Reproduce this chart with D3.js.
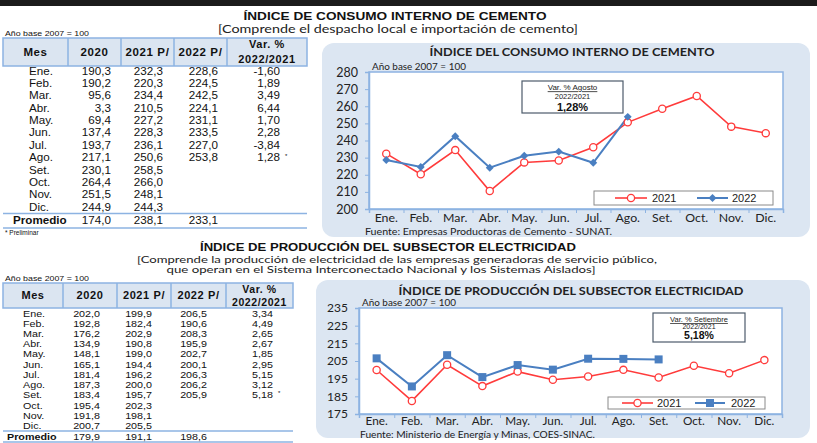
<!DOCTYPE html>
<html><head><meta charset="utf-8">
<script src="https://cdn.jsdelivr.net/npm/d3@7"></script>
<style>body{margin:0;background:#fff}svg{display:block}</style>
</head><body><svg id="c" width="817" height="443"></svg>
<script>
// ---------- DATA ----------
const months = ["Ene.","Feb.","Mar.","Abr.","May.","Jun.","Jul.","Ago.","Set.","Oct.","Nov.","Dic."];
const tableHeaders = ["Mes","2020","2021 P/","2022 P/"];
const varHeader = ["Var. %","2022/2021"];

const cem2020 = [190.3,190.2,95.6,3.3,69.4,137.4,193.7,217.1,230.1,264.4,251.5,244.9];
const cem2021 = [232.3,220.3,234.4,210.5,227.2,228.3,236.1,250.6,258.5,266.0,248.1,244.3];
const cem2022 = [228.6,224.5,242.5,224.1,231.1,233.5,227.0,253.8];
const cemVar  = [-1.60,1.89,3.49,6.44,1.70,2.28,-3.84,1.28];
const cemProm = [174.0,238.1,233.1];
const cemTicks = [200,210,220,230,240,250,260,270,280];

const ele2020 = [202.0,192.8,176.2,134.9,148.1,165.1,181.4,187.3,183.4,195.4,191.8,200.7];
const ele2021 = [199.9,182.4,202.9,190.8,199.0,194.4,196.2,200.0,195.7,202.3,198.1,205.5];
const ele2022 = [206.5,190.6,208.3,195.9,202.7,200.1,206.3,206.2,205.9];
const eleVar  = [3.34,4.49,2.65,2.67,1.85,2.95,5.15,3.12,5.18];
const eleProm = [179.9,191.1,198.6];
const eleTicks = [175,185,195,205,215,225,235];

const seriesNames = ["2021","2022"];

// ---------- HELPERS ----------
const svg = d3.select("#c");
const f1 = v => d3.format(".1f")(v).replace(".", ",");
const f2 = v => d3.format(".2f")(v).replace(".", ",").replace("−", "-");
const RED = "#ff3b3b", BLUE = "#4a7fc1", LINEBLUE = "#8db3e2";
const TFONT = "'Liberation Sans', Arial, sans-serif";
const CFONT = "Lato, 'Open Sans', sans-serif";

function stretch(sel, sx) {
  sel.each(function () {
    const L = this.getComputedTextLength();
    if (L > 0) d3.select(this).attr("textLength", L * sx).attr("lengthAdjust", "spacingAndGlyphs");
  });
}

function txt(g, x, y, s, o = {}) {
  const t = g.append("text").attr("x", x).attr("y", y).text(s)
    .attr("font-family", o.family || TFONT).attr("font-size", o.size || 11)
    .attr("font-weight", o.weight || "normal").attr("fill", o.fill || "#111")
    .attr("text-anchor", o.anchor || "start").attr("dy", o.dy || "0.35em");
  if (o.ls) t.attr("letter-spacing", o.ls);
  if (o.deco) t.attr("text-decoration", o.deco);
  if (o.len) t.attr("textLength", o.len).attr("lengthAdjust", "spacingAndGlyphs");
  else if (o.sx) stretch(t, o.sx);
  return t;
}

// top dark bar
svg.append("rect").attr("x", 0).attr("y", 0).attr("width", 817).attr("height", 6).attr("fill", "#1b1b1b");

// ---------- TABLE ----------
function drawTable(c) {
  const g = svg.append("g");
  txt(g, c.x0 + 2, c.baseY, "Año base 2007 = 100", {size: 8, sx: 1.1});
  g.append("rect").attr("x", c.edges[0]).attr("y", c.headTop)
    .attr("width", c.edges[c.edges.length - 1] - c.edges[0]).attr("height", c.headBot - c.headTop)
    .attr("fill", "#dbe5f1").attr("stroke", LINEBLUE).attr("stroke-width", 1.5);
  c.edges.slice(1, -1).forEach(x => g.append("line").attr("x1", x).attr("x2", x)
    .attr("y1", c.headTop).attr("y2", c.headBot).attr("stroke", LINEBLUE).attr("stroke-width", 1.5));
  const hmid = (c.headTop + c.headBot) / 2;
  tableHeaders.forEach((h, i) => txt(g, (c.edges[i] + c.edges[i + 1]) / 2, hmid, h,
    {weight: "bold", size: c.hsize, anchor: "middle", ls: 0.6}));
  const vm = (c.edges[4] + c.edges[5]) / 2;
  txt(g, vm, hmid - c.hgap, varHeader[0], {weight: "bold", size: c.hvsize, anchor: "middle", ls: 0.6});
  txt(g, vm, hmid + c.hgap, varHeader[1], {weight: "bold", size: c.hvsize, anchor: "middle", ls: 0.6});

  const rowY = d3.scaleLinear().domain([0, 11]).range([c.row0, c.row11]);
  const o = {size: c.size, sx: c.sx};
  const oe = {size: c.size, sx: c.sx, anchor: "end"};
  months.forEach((m, i) => {
    const y = rowY(i);
    txt(g, c.mesX, y, m, o);
    txt(g, c.rx[0], y, f1(c.d2020[i]), oe);
    txt(g, c.rx[1], y, f1(c.d2021[i]), oe);
    if (i < c.d2022.length) {
      txt(g, c.rx[2], y, f1(c.d2022[i]), oe);
      txt(g, c.rx[3], y, f2(c.dVar[i]), oe);
      if (i === c.d2022.length - 1) txt(g, c.rx[3] + 5, y - 2, "*", {size: 6});
    }
  });
  [c.lineAbove, c.lineBelow].forEach(y => g.append("line").attr("x1", c.edges[0]).attr("x2", c.edges[5])
    .attr("y1", y).attr("y2", y).attr("stroke", LINEBLUE).attr("stroke-width", 1.5));
  txt(g, c.promX, c.promY, "Promedio", {size: c.size, sx: c.sx, weight: "bold"});
  c.prom.forEach((v, i) => txt(g, c.rx[i], c.promY, f1(v), oe));
  if (c.prelimY) txt(g, c.x0 + 2, c.prelimY, "* Preliminar", {size: 6.5});
}

drawTable({x0: 3, baseY: 33, edges: [3, 68, 121, 174, 227, 307], headTop: 38, headBot: 66, hsize: 11.5, hvsize: 11, hgap: 7.5,
  row0: 71, row11: 207, mesX: 29, rx: [111, 163, 218, 280], size: 10.3, sx: 1.13,
  d2020: cem2020, d2021: cem2021, d2022: cem2022, dVar: cemVar, prom: cemProm,
  lineAbove: 213.5, lineBelow: 228, promX: 13, promY: 220.5, prelimY: 233});

drawTable({x0: 3, baseY: 278, edges: [3, 63, 117, 171, 226, 293], headTop: 283, headBot: 308, hsize: 11, hvsize: 10.5, hgap: 6.5,
  row0: 313.5, row11: 426, mesX: 23, rx: [100, 152, 207, 273], size: 8.8, sx: 1.22,
  d2020: ele2020, d2021: ele2021, d2022: ele2022, dVar: eleVar, prom: eleProm,
  lineAbove: 431, lineBelow: 442, promX: 7, promY: 436.5, prelimY: null});

// ---------- SECTION TITLES ----------
txt(svg, 395, 16, "ÍNDICE DE CONSUMO INTERNO DE CEMENTO", {weight: "bold", size: 10.5, anchor: "middle", len: 303});
txt(svg, 398, 29, "[Comprende el despacho local e importación de cemento]", {family: CFONT, size: 10.5, anchor: "middle", len: 360, fill: "#222"});
txt(svg, 388, 247, "ÍNDICE DE PRODUCCIÓN DEL SUBSECTOR ELECTRICIDAD", {weight: "bold", size: 10.5, anchor: "middle", len: 376});
txt(svg, 397, 259, "[Comprende la producción de electricidad de las empresas generadoras de servicio público,", {family: CFONT, size: 10, anchor: "middle", len: 520, fill: "#222"});
txt(svg, 381, 269.5, "que operan en el Sistema Interconectado Nacional y los Sistemas Aislados]", {family: CFONT, size: 10, anchor: "middle", len: 429, fill: "#222"});

// ---------- CHARTS ----------
function marker(g, type, x, y, color) {
  if (type === "circle") g.append("circle").attr("cx", x).attr("cy", y).attr("r", 3.6)
    .attr("fill", "#fff").attr("stroke", color).attr("stroke-width", 1.3);
  else if (type === "diamond") g.append("path").attr("d", d3.symbol(d3.symbolDiamond2, 40)())
    .attr("transform", `translate(${x},${y})`).attr("fill", color);
  else g.append("rect").attr("x", x - 4).attr("y", y - 4).attr("width", 8).attr("height", 8).attr("fill", color);
}

function drawChart(c) {
  const g = svg.append("g");
  g.append("rect").attr("x", c.panel[0]).attr("y", c.panel[1]).attr("width", c.panel[2]).attr("height", c.panel[3])
    .attr("rx", 12).attr("fill", "#dce6f2");
  txt(g, c.titleX, c.titleY, c.title, {family: CFONT, weight: "bold", size: 11, anchor: "middle", len: c.titleLen, fill: "#222"});
  txt(g, c.baseX, c.baseY, "Año base  2007  =  100", {family: CFONT, size: 9, fill: "#222", sx: 1.1});
  g.append("rect").attr("x", c.L).attr("y", c.T).attr("width", c.R - c.L).attr("height", c.B - c.T)
    .attr("fill", "#fff").attr("stroke", "#8db3e2").attr("stroke-width", 1.5);

  const y = d3.scaleLinear().domain(d3.extent(c.ticks)).range([c.B, c.T]);
  const x = d3.scaleBand().domain(months).range([c.L, c.R]);
  const xb = d3.scaleLinear().domain([0, 12]).range([c.L, c.R]);

  const ya = g.append("g").attr("transform", `translate(${c.L},0)`)
    .call(d3.axisLeft(y).tickValues(c.ticks).tickSize(4).tickPadding(7).tickFormat(d3.format("d")));
  ya.select(".domain").attr("stroke", "#8db3e2").attr("stroke-width", 1.5);
  ya.selectAll(".tick line").attr("stroke", "#8db3e2");
  ya.selectAll("text").attr("font-family", CFONT).attr("font-size", c.yfs).attr("fill", "#222");

  const xa = g.append("g").attr("transform", `translate(0,${c.B})`)
    .call(d3.axisBottom(xb).tickValues(d3.range(13)).tickSize(4).tickFormat(""));
  xa.select(".domain").attr("stroke", "#8db3e2").attr("stroke-width", 1.5);
  xa.selectAll(".tick line").attr("stroke", "#8db3e2");
  const xl = g.append("g").attr("transform", `translate(0,${c.B})`)
    .call(d3.axisBottom(x).tickSize(0).tickPadding(c.xpad));
  xl.select(".domain").remove();
  xl.selectAll("text").attr("font-family", CFONT).attr("font-size", c.xfs).attr("fill", "#222");
  stretch(xl.selectAll("text"), 1.12);

  const line = d3.line().x((d, i) => x(months[i]) + x.bandwidth() / 2).y(d => y(d));
  g.append("path").datum(c.s1).attr("d", line).attr("fill", "none").attr("stroke", RED).attr("stroke-width", 1.6);
  g.append("path").datum(c.s2).attr("d", line).attr("fill", "none").attr("stroke", BLUE).attr("stroke-width", 2);
  c.s1.forEach((d, i) => marker(g, "circle", x(months[i]) + x.bandwidth() / 2, y(d), RED));
  c.s2.forEach((d, i) => marker(g, c.m2, x(months[i]) + x.bandwidth() / 2, y(d), BLUE));

  // annotation
  const a = c.ann;
  g.append("rect").attr("x", a.x).attr("y", a.y).attr("width", a.w).attr("height", a.h)
    .attr("fill", "#fff").attr("stroke", "#4d5b6b").attr("stroke-width", 1.2);
  const cx = a.x + a.w / 2;
  txt(g, cx, a.l1, a.t1, {family: TFONT, size: a.s1, anchor: "middle", deco: "underline", fill: "#222"});
  txt(g, cx, a.l2, "2022/2021", {family: TFONT, size: a.s2, anchor: "middle", fill: "#222"});
  txt(g, cx, a.l3, a.t3, {family: TFONT, size: a.s3, weight: "bold", anchor: "middle", fill: "#111"});

  // legend
  const lg = c.leg;
  g.append("rect").attr("x", lg.x).attr("y", lg.y).attr("width", lg.w).attr("height", lg.h)
    .attr("fill", "#fff").attr("stroke", "#8a8a8a").attr("stroke-width", 1);
  const ly = lg.y + lg.h / 2;
  g.append("line").attr("x1", lg.r1[0]).attr("x2", lg.r1[1]).attr("y1", ly).attr("y2", ly).attr("stroke", RED).attr("stroke-width", 1.6);
  marker(g, "circle", (lg.r1[0] + lg.r1[1]) / 2, ly, RED);
  txt(g, lg.t1, ly, seriesNames[0], {family: TFONT, size: c.legfs, fill: "#222"});
  g.append("line").attr("x1", lg.r2[0]).attr("x2", lg.r2[1]).attr("y1", ly).attr("y2", ly).attr("stroke", BLUE).attr("stroke-width", 2);
  marker(g, c.m2, (lg.r2[0] + lg.r2[1]) / 2, ly, BLUE);
  txt(g, lg.t2, ly, seriesNames[1], {family: TFONT, size: c.legfs, fill: "#222"});

  txt(g, c.srcX, c.srcY, c.src, {family: CFONT, size: c.srcfs, fill: "#222", len: c.srcLen});
}

drawChart({panel: [322, 43, 488, 194], title: "ÍNDICE DEL CONSUMO INTERNO DE CEMENTO", titleX: 572, titleY: 52, titleLen: 285,
  baseX: 372, baseY: 66.5, L: 369, R: 783, T: 72, B: 209, ticks: cemTicks, yfs: 12.5, xfs: 11, xpad: 5,
  s1: cem2021, s2: cem2022, m2: "diamond",
  ann: {x: 522, y: 81, w: 101, h: 32, l1: 87.5, l2: 96, l3: 107, t1: "Var. % Agosto", t3: "1,28%", s1: 8, s2: 7.5, s3: 11},
  leg: {x: 594, y: 191, w: 179, h: 14, r1: [615, 647], t1: 652, r2: [697, 728], t2: 732}, legfs: 11,
  src: "Fuente: Empresas Productoras de Cemento - SUNAT.", srcX: 365, srcY: 232, srcfs: 9.5, srcLen: 247});

drawChart({panel: [316, 280, 494, 158], title: "ÍNDICE DE PRODUCCIÓN DEL SUBSECTOR ELECTRICIDAD", titleX: 571, titleY: 291, titleLen: 345,
  baseX: 362, baseY: 302.5, L: 359, R: 782, T: 308, B: 414, ticks: eleTicks, yfs: 12, xfs: 10.5, xpad: 4,
  s1: ele2021, s2: ele2022, m2: "square",
  ann: {x: 653, y: 313, w: 92, h: 29, l1: 319.5, l2: 327, l3: 335.5, t1: "Var. % Setiembre", t3: "5,18%", s1: 7.5, s2: 7, s3: 10.5},
  leg: {x: 608, y: 397, w: 157, h: 12, r1: [622, 653], t1: 657, r2: [695, 725], t2: 731}, legfs: 11,
  src: "Fuente: Ministerio de Energía y Minas, COES-SINAC.", srcX: 360, srcY: 434.5, srcfs: 9, srcLen: 235});
</script></body></html>
